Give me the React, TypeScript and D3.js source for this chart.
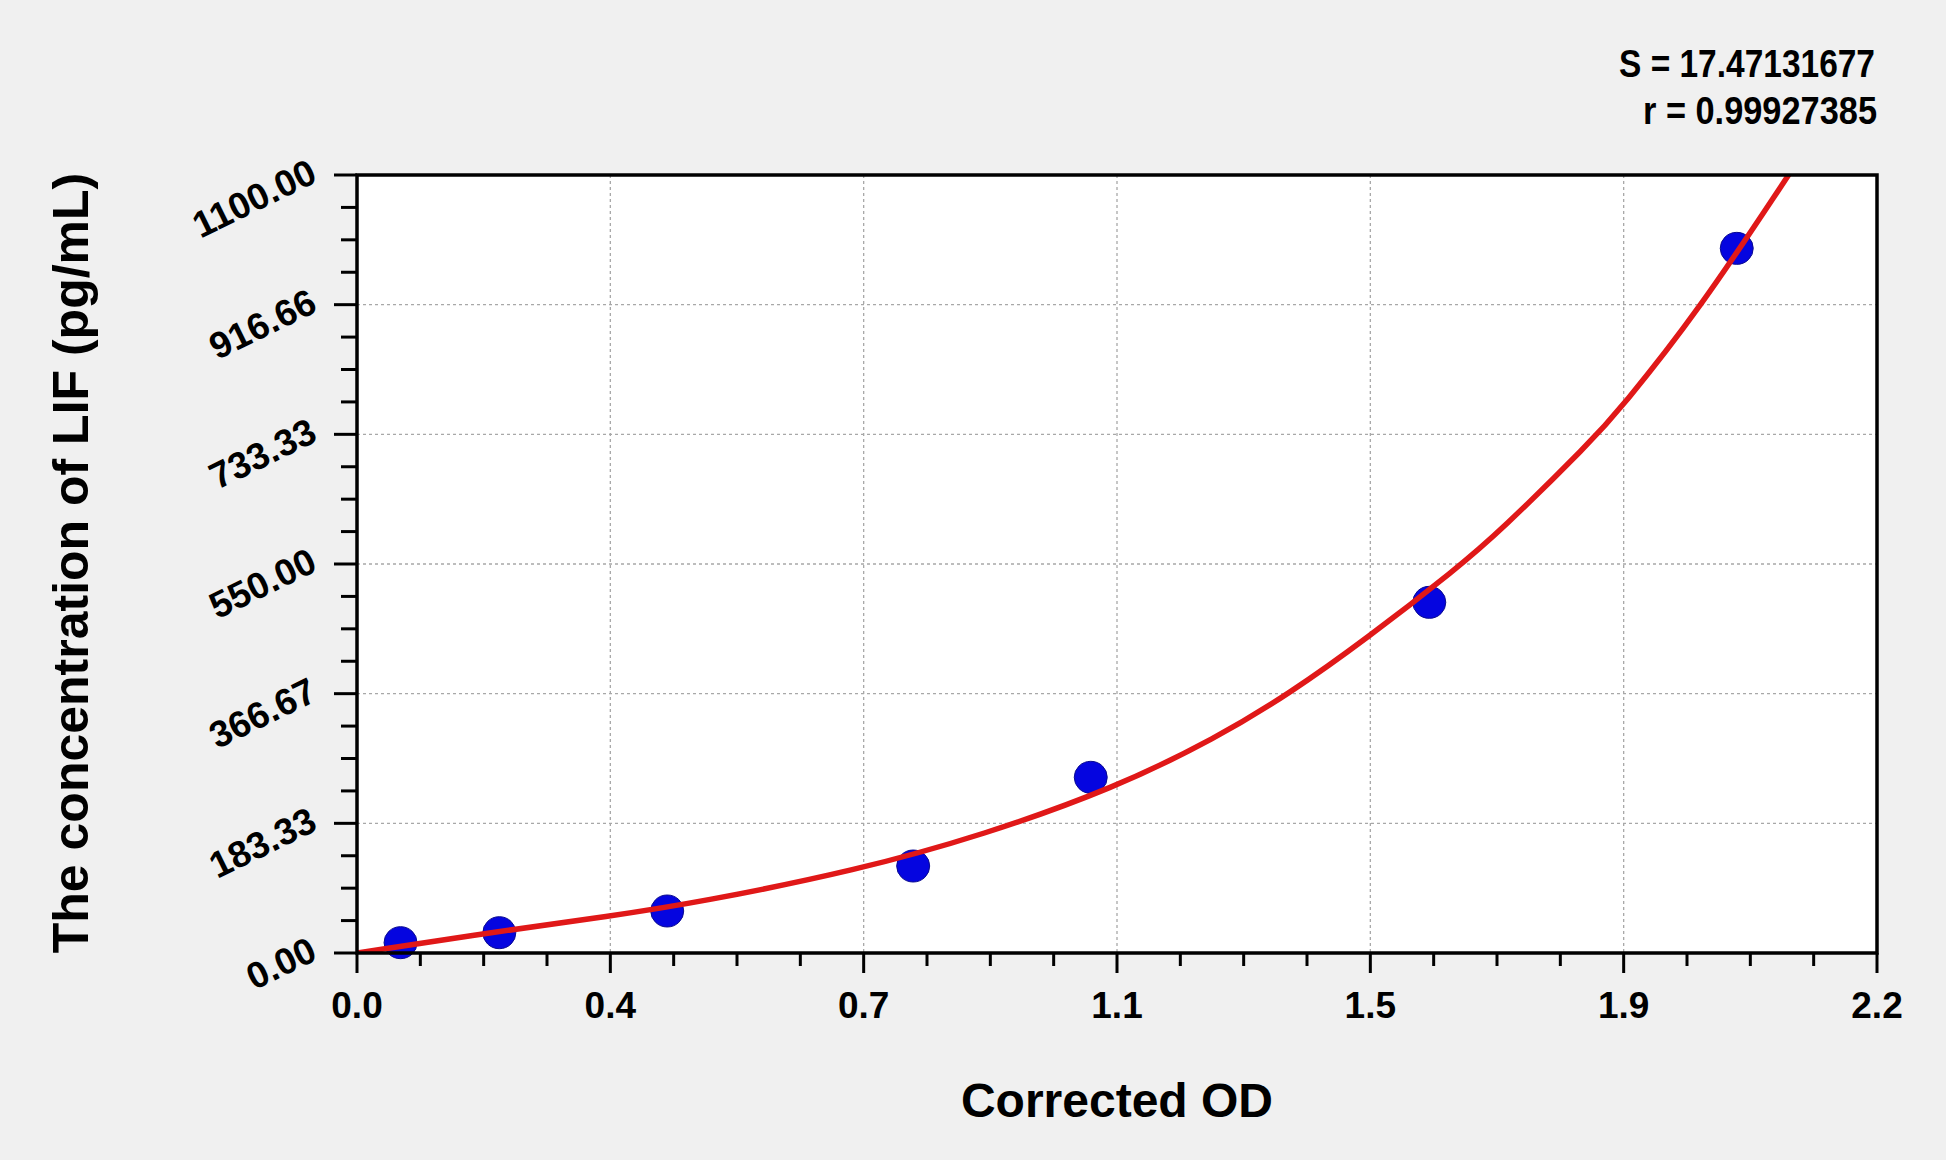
import React from 'react';
import * as d3 from 'd3';

// standards
const odValues = [0.063, 0.206, 0.449, 0.805, 1.062, 1.552, 1.997];
const concValues = [14.6, 28.7, 59.4, 123, 248.4, 495.8, 996.3];

// fitted curve
const fitOD = [0, 0.2, 0.366, 0.497, 0.724, 0.907, 1.096, 1.244, 1.35, 1.462, 1.592, 1.654, 1.785, 1.829, 1.941, 2.072];
const fitConc = [0, 30, 52, 72, 117, 167, 233, 304, 367, 445, 544, 596, 722, 770, 907, 1100];

const xTickLabels = ['0.0', '0.4', '0.7', '1.1', '1.5', '1.9', '2.2'];
const yTickLabels = ['0.00', '183.33', '366.67', '550.00', '733.33', '916.66', '1100.00'];

const statLines = ['S = 17.47131677', 'r = 0.99927385'];

const W = 1946;
const H = 1160;
const margin = { top: 175, right: 69, bottom: 207, left: 357 };
const FONT = '"Liberation Sans", Arial, Helvetica, sans-serif';

export default function App() {
  const innerW = W - margin.left - margin.right;
  const innerH = H - margin.top - margin.bottom;

  const x = d3.scaleLinear().domain([0, 2.2]).range([margin.left, margin.left + innerW]);
  const y = d3.scaleLinear().domain([0, 1100]).range([margin.top + innerH, margin.top]);

  const xMajor = d3.range(7).map((i) => (2.2 / 6) * i);
  const yMajor = d3.range(7).map((i) => (1100 / 6) * i);
  const xMinor = d3.range(25).map((i) => (2.2 / 24) * i).filter((_, i) => i % 4 !== 0);
  const yMinor = d3.range(25).map((i) => (1100 / 24) * i).filter((_, i) => i % 4 !== 0);

  const curve = fitOD.map((d, i) => [d, fitConc[i]] as [number, number]);
  const line = d3
    .line<[number, number]>()
    .x((d) => x(d[0]))
    .y((d) => y(d[1]))
    .curve(d3.curveBasis);

  const x0 = x(0);
  const y0 = y(0);

  return (
    <svg
      width={W}
      height={H}
      style={{ position: 'absolute', left: 0, top: 0 }}
      fontFamily={FONT}
    >
      <defs>
        <clipPath id="plot-clip">
          <rect x={margin.left} y={margin.top} width={innerW} height={innerH} />
        </clipPath>
      </defs>
      <rect width={W} height={H} fill="#f0f0f0" />
      <rect x={margin.left} y={margin.top} width={innerW} height={innerH} fill="#ffffff" />

      {/* grid */}
      <g stroke="#a8a8a8" strokeWidth={1.3} strokeDasharray="3,3">
        {xMajor.slice(1, -1).map((d, i) => (
          <line key={'gx' + i} x1={x(d)} x2={x(d)} y1={margin.top} y2={y0} />
        ))}
        {yMajor.slice(1, -1).map((d, i) => (
          <line key={'gy' + i} x1={x0} x2={margin.left + innerW} y1={y(d)} y2={y(d)} />
        ))}
      </g>

      {/* points, then curve on top */}
      <g fill="#0505e0" stroke="#0a0a90" strokeWidth={1}>
        {odValues.map((d, i) => (
          <ellipse key={'p' + i} cx={x(d)} cy={y(concValues[i])} rx={16.5} ry={16} />
        ))}
      </g>
      <path
        d={line(curve) || ''}
        fill="none"
        stroke="#e01818"
        strokeWidth={5.5}
        strokeLinejoin="round"
        strokeLinecap="round"
        clipPath="url(#plot-clip)"
      />

      {/* frame */}
      <rect
        x={margin.left}
        y={margin.top}
        width={innerW}
        height={innerH}
        fill="none"
        stroke="#000"
        strokeWidth={3.5}
      />

      {/* ticks */}
      <g stroke="#000" strokeWidth={3}>
        {xMajor.map((d, i) => (
          <line key={'xt' + i} x1={x(d)} x2={x(d)} y1={y0} y2={y0 + 20} />
        ))}
        {xMinor.map((d, i) => (
          <line key={'xm' + i} x1={x(d)} x2={x(d)} y1={y0} y2={y0 + 13} />
        ))}
        {yMajor.map((d, i) => (
          <line key={'yt' + i} x1={x0 - 23} x2={x0} y1={y(d)} y2={y(d)} />
        ))}
        {yMinor.map((d, i) => (
          <line key={'ym' + i} x1={x0 - 16} x2={x0} y1={y(d)} y2={y(d)} />
        ))}
      </g>

      {/* tick labels */}
      <g fontWeight="bold" fill="#000">
        {xMajor.map((d, i) => (
          <text key={'xl' + i} x={x(d)} y={y0 + 65} textAnchor="middle" fontSize={37}>
            {xTickLabels[i]}
          </text>
        ))}
        {yMajor.map((d, i) => {
          const tx = x0 - 38;
          const ty = y(d) + 6;
          return (
            <text
              key={'yl' + i}
              x={tx}
              y={ty}
              textAnchor="end"
              fontSize={37}
              transform={`rotate(-26, ${tx}, ${ty})`}
            >
              {yTickLabels[i]}
            </text>
          );
        })}
      </g>

      {/* axis titles */}
      <text
        x={(margin.left + margin.left + innerW) / 2}
        y={1117}
        textAnchor="middle"
        fontSize={48}
        fontWeight="bold"
        fill="#000"
      >
        Corrected OD
      </text>
      <text
        transform={`translate(88, 563) rotate(-90)`}
        textAnchor="middle"
        fontSize={50}
        fontWeight="bold"
        fill="#000"
      >
        The concentration of LIF (pg/mL)
      </text>

      {/* fit statistics */}
      <g fontSize={38} fontWeight="bold" fill="#000" textAnchor="end">
        <text x={1875} y={77} textLength={256} lengthAdjust="spacingAndGlyphs">
          {statLines[0]}
        </text>
        <text x={1877} y={124} textLength={234} lengthAdjust="spacingAndGlyphs">
          {statLines[1]}
        </text>
      </g>
    </svg>
  );
}
